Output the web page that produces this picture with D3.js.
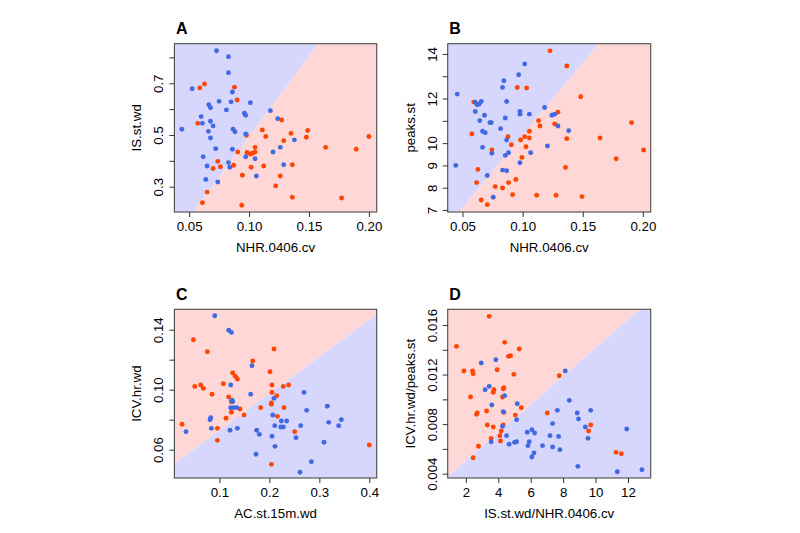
<!DOCTYPE html>
<html><head><meta charset="utf-8">
<script src="https://cdn.jsdelivr.net/npm/d3@7"></script>
<style>body{margin:0;background:#fff} text{font-family:"Liberation Sans",Arial,sans-serif;fill:#000}</style>
</head><body><svg id="c" width="800" height="533"></svg>
<script>
// ---- data ----
const aBlue=[[0.0728,0.826],[0.0828,0.803],[0.0828,0.741],[0.0525,0.679],[0.0861,0.666],[0.0664,0.617],[0.0678,0.605],[0.0750,0.630],[0.0850,0.628],[0.1011,0.625],[0.0811,0.597],[0.0600,0.571],[0.0961,0.584],[0.0972,0.576],[0.1178,0.594],[0.1239,0.563],[0.0611,0.545],[0.0678,0.553],[0.0700,0.535],[0.0439,0.522],[0.0661,0.514],[0.0867,0.522],[0.0883,0.512],[0.0972,0.504],[0.0678,0.488],[0.1378,0.481],[0.0722,0.447],[0.0861,0.445],[0.1261,0.452],[0.0617,0.416],[0.0972,0.416],[0.1050,0.408],[0.1200,0.434],[0.0828,0.393],[0.0650,0.380],[0.0839,0.375],[0.1289,0.385],[0.0639,0.328],[0.0739,0.318],[0.1061,0.341]];
const aRed=[[0.0628,0.697],[0.0589,0.682],[0.0878,0.685],[0.0900,0.635],[0.0572,0.545],[0.1272,0.558],[0.1111,0.519],[0.1489,0.517],[0.1350,0.506],[0.1139,0.494],[0.0978,0.499],[0.1478,0.491],[0.2000,0.494],[0.1289,0.478],[0.1050,0.452],[0.1639,0.452],[0.1894,0.445],[0.0906,0.434],[0.0983,0.432],[0.1011,0.426],[0.1028,0.429],[0.1050,0.434],[0.0739,0.398],[0.0761,0.377],[0.0700,0.370],[0.0872,0.383],[0.1017,0.375],[0.1122,0.380],[0.1361,0.385],[0.0944,0.344],[0.1261,0.341],[0.1222,0.303],[0.0650,0.279],[0.1361,0.259],[0.1772,0.256],[0.0611,0.238],[0.0939,0.228]];
const bBlue=[[0.1017,13.55],[0.0967,13.07],[0.0844,12.80],[0.0833,12.50],[0.0456,12.20],[0.0606,11.84],[0.0622,11.72],[0.0639,11.75],[0.0656,11.87],[0.0867,11.87],[0.0606,11.42],[0.0683,11.25],[0.0644,11.01],[0.0728,10.92],[0.0739,10.92],[0.0856,11.13],[0.0978,11.42],[0.0978,11.30],[0.1056,11.30],[0.1183,11.60],[0.1244,11.25],[0.1267,11.30],[0.1294,10.77],[0.1383,10.56],[0.0817,10.65],[0.0667,10.53],[0.0689,10.47],[0.0867,10.14],[0.0667,9.81],[0.0744,9.54],[0.0856,9.45],[0.0883,9.57],[0.1067,9.57],[0.1206,9.87],[0.0978,9.12],[0.0444,9.00],[0.0833,8.79],[0.0867,8.76],[0.0706,8.55],[0.0756,7.57]];
const bRed=[[0.1228,14.14],[0.1367,13.46],[0.0956,12.50],[0.1033,12.47],[0.1483,12.08],[0.0594,11.84],[0.1294,11.39],[0.1133,11.01],[0.1144,10.77],[0.1267,10.86],[0.1906,10.92],[0.0578,10.41],[0.1056,10.53],[0.0878,10.29],[0.1017,10.29],[0.1056,10.23],[0.0983,10.14],[0.1367,10.20],[0.1644,10.23],[0.0906,9.93],[0.1028,9.84],[0.0744,9.69],[0.2006,9.69],[0.0994,9.36],[0.1778,9.30],[0.1356,8.91],[0.0628,8.82],[0.0944,8.37],[0.0617,8.23],[0.0883,8.23],[0.0772,8.05],[0.0833,7.99],[0.0917,7.69],[0.1117,7.66],[0.1278,7.66],[0.1494,7.60],[0.0656,7.45],[0.0706,7.24]];
const cBlue=[[0.0907,0.1493],[0.1187,0.1396],[0.1240,0.1382],[0.1653,0.1160],[0.1227,0.1031],[0.1627,0.0969],[0.1253,0.0929],[0.1267,0.0920],[0.1227,0.0880],[0.1280,0.0880],[0.1347,0.0880],[0.2093,0.0942],[0.2693,0.0982],[0.2747,0.0862],[0.3160,0.0889],[0.2067,0.0831],[0.0813,0.0800],[0.0827,0.0813],[0.2240,0.0791],[0.2347,0.0791],[0.2227,0.0751],[0.2280,0.0751],[0.3187,0.0782],[0.3440,0.0800],[0.3387,0.0760],[0.2107,0.0760],[0.2627,0.0760],[0.0840,0.0742],[0.1213,0.0729],[0.1360,0.0742],[0.0333,0.0720],[0.1747,0.0729],[0.1800,0.0702],[0.2053,0.0689],[0.2533,0.0680],[0.3093,0.0649],[0.2113,0.0622],[0.1733,0.0569],[0.2840,0.0520],[0.2613,0.0449]];
const cRed=[[0.0480,0.1333],[0.0760,0.1253],[0.2093,0.1271],[0.1667,0.1191],[0.2013,0.1120],[0.1267,0.1111],[0.1320,0.1089],[0.1360,0.1071],[0.1080,0.1040],[0.0507,0.1022],[0.0627,0.1031],[0.0680,0.1009],[0.2053,0.1031],[0.2280,0.1022],[0.2387,0.1031],[0.2053,0.0982],[0.0853,0.0969],[0.2147,0.0960],[0.1187,0.0951],[0.1240,0.0920],[0.2040,0.0911],[0.2040,0.0902],[0.1827,0.0880],[0.2293,0.0880],[0.1413,0.0871],[0.1240,0.0849],[0.1493,0.0831],[0.2160,0.0822],[0.1133,0.0809],[0.0253,0.0769],[0.0960,0.0742],[0.2507,0.0720],[0.0960,0.0662],[0.4000,0.0631],[0.2040,0.0502]];
const dRed=[[3.44,0.01670],[1.42,0.01428],[4.39,0.01460],[4.63,0.01347],[4.76,0.01352],[5.29,0.01406],[1.88,0.01229],[2.41,0.01229],[2.45,0.01207],[3.93,0.01239],[4.96,0.01202],[7.76,0.01191],[3.73,0.01078],[3.69,0.01056],[4.35,0.01094],[4.30,0.01085],[2.29,0.01019],[4.26,0.01019],[5.42,0.00933],[3.28,0.00906],[2.70,0.00890],[2.66,0.00879],[4.35,0.00895],[5.05,0.00873],[7.02,0.00890],[3.32,0.00793],[3.69,0.00777],[4.30,0.00793],[4.18,0.00744],[9.70,0.00793],[9.57,0.00744],[4.10,0.00707],[3.56,0.00685],[4.14,0.00664],[2.78,0.00621],[2.45,0.00529],[11.26,0.00572],[11.59,0.00561]];
const dBlue=[[2.95,0.01293],[3.85,0.01320],[8.13,0.01229],[3.19,0.01078],[3.44,0.01105],[4.39,0.01030],[3.60,0.00954],[5.17,0.00965],[8.38,0.00992],[4.30,0.00900],[7.64,0.00911],[8.87,0.00890],[9.70,0.00911],[5.13,0.00836],[8.95,0.00841],[7.35,0.00804],[4.26,0.00782],[9.37,0.00777],[11.92,0.00760],[5.79,0.00734],[6.07,0.00755],[6.24,0.00728],[4.51,0.00707],[7.19,0.00707],[7.72,0.00701],[9.53,0.00685],[3.56,0.00658],[5.00,0.00653],[5.13,0.00658],[5.91,0.00658],[4.67,0.00637],[5.83,0.00626],[6.73,0.00626],[7.35,0.00615],[7.80,0.00594],[6.20,0.00567],[6.07,0.00535],[8.91,0.00459],[11.34,0.00416],[12.86,0.00432]];
// decision boundaries (two points each, data units)
const aBoundary=[[0.0533,0.202],[0.1578,0.853]];
const bBoundary=[[0.0472,6.91],[0.1633,14.46]];
const cBoundary=[[0.010,0.0506],[0.4148,0.1502]];
const dBoundary=[[0.87,0.00373],[12.74,0.01727]];
// ticks
const abXTicks=[0.05,0.10,0.15,0.20];
const aYTicks=[0.3,0.4,0.5,0.6,0.7,0.8], aYLabels=[0.3,0.5,0.7];
const bYTicks=[7,8,9,10,11,12,13,14], bYLabels=[7,8,9,10,12,14];
const cXTicks=[0.1,0.2,0.3,0.4];
const cYTicks=[0.06,0.08,0.10,0.12,0.14], cYLabels=[0.06,0.10,0.14];
const dXTicks=[2,4,6,8,10,12];
const dYTicks=[0.004,0.006,0.008,0.010,0.012,0.014,0.016], dYLabels=[0.004,0.008,0.012,0.016];

const COL={blue:"#4169e1",red:"#ff4500",bgBlue:"#d7d7fd",bgRed:"#ffd7d7"};

const panels=[
 {t:"A",blue:aBlue,red:aRed,bd:aBoundary,ul:"blue",xd:[0.0377,0.2065],yd:[0.202,0.853],xt:abXTicks,xl:abXTicks,xf:".2f",yt:aYTicks,yl:aYLabels,yf:".1f",xlab:"NHR.0406.cv",ylab:"IS.st.wd",box:[174.4,43.7,376.7,212]},
 {t:"B",blue:bBlue,red:bRed,bd:bBoundary,ul:"blue",xd:[0.0377,0.2065],yd:[6.91,14.46],xt:abXTicks,xl:abXTicks,xf:".2f",yt:bYTicks,yl:bYLabels,yf:"d",xlab:"NHR.0406.cv",ylab:"peaks.st",box:[447.7,43.7,650.7,212]},
 {t:"C",blue:cBlue,red:cRed,bd:cBoundary,ul:"red",xd:[0.010,0.4148],yd:[0.0411,0.1536],xt:cXTicks,xl:cXTicks,xf:".1f",yt:cYTicks,yl:cYLabels,yf:".2f",xlab:"AC.st.15m.wd",ylab:"ICV.hr.wd",box:[174.4,309.3,376.7,478]},
 {t:"D",blue:dBlue,red:dRed,bd:dBoundary,ul:"red",xd:[0.88,13.40],yd:[0.00365,0.01727],xt:dXTicks,xl:dXTicks,xf:"d",yt:dYTicks,yl:dYLabels,yf:".3f",xlab:"IS.st.wd/NHR.0406.cv",ylab:"ICV.hr.wd/peaks.st",box:[447.7,309.3,650.7,478]}
];

function clipHalf(poly,a,b,sign){
  const s=p=>sign*((b[0]-a[0])*(p[1]-a[1])-(b[1]-a[1])*(p[0]-a[0]));
  const out=[];
  for(let i=0;i<poly.length;i++){
    const P=poly[i],Q=poly[(i+1)%poly.length],sp=s(P),sq=s(Q);
    if(sp>=0) out.push(P);
    if((sp>=0)!==(sq>=0)){const t=sp/(sp-sq);out.push([P[0]+t*(Q[0]-P[0]),P[1]+t*(Q[1]-P[1])]);}
  }
  return out;
}

const svg=d3.select("#c");
const FS=13.3;
panels.forEach((p,i)=>{
  const [x0,y0,x1,y1]=p.box;
  const x=d3.scaleLinear().domain(p.xd).range([x0,x1]);
  const y=d3.scaleLinear().domain(p.yd).range([y1,y0]);
  const g=svg.append("g");
  const rect=[[x0,y0],[x1,y0],[x1,y1],[x0,y1]];
  const a=[x(p.bd[0][0]),y(p.bd[0][1])], b=[x(p.bd[1][0]),y(p.bd[1][1])];
  const sTL=(b[0]-a[0])*(y0-a[1])-(b[1]-a[1])*(x0-a[0]);
  const sg=sTL>=0?1:-1;
  const polyUL=clipHalf(rect,a,b,sg), polyLR=clipHalf(rect,a,b,-sg);
  const ulCol=p.ul==="blue"?COL.bgBlue:COL.bgRed, lrCol=p.ul==="blue"?COL.bgRed:COL.bgBlue;
  const line=d3.line();
  g.append("path").attr("d",line(polyUL)+"Z").attr("fill",ulCol);
  g.append("path").attr("d",line(polyLR)+"Z").attr("fill",lrCol);
  const pts=[...p.red.map(d=>({d,c:COL.red})),...p.blue.map(d=>({d,c:COL.blue}))];
  g.selectAll("circle").data(pts).join("circle")
    .attr("cx",o=>x(o.d[0])).attr("cy",o=>y(o.d[1])).attr("r",2.45).attr("fill",o=>o.c);
  g.append("rect").attr("x",x0).attr("y",y0).attr("width",x1-x0).attr("height",y1-y0)
    .attr("fill","none").attr("stroke","#4a4a4a").attr("stroke-width",1.1);
  const fx=d3.format(p.xf), fy=d3.format(p.yf);
  const ax=g.append("g").attr("transform",`translate(0,${y1})`)
    .call(d3.axisBottom(x).tickValues(p.xt).tickSize(5).tickFormat(v=>p.xl.includes(v)?fx(v):""));
  ax.select(".domain").remove();
  ax.selectAll("line").attr("stroke","#333");
  ax.selectAll("text").attr("y",19).attr("dy",0).style("font-size",FS+"px").attr("fill","#000");
  const ay=g.append("g").attr("transform",`translate(${x0},0)`)
    .call(d3.axisLeft(y).tickValues(p.yt).tickSize(5).tickFormat(v=>p.yl.some(l=>Math.abs(l-v)<1e-9)?fy(v):""));
  ay.select(".domain").remove();
  ay.selectAll("line").attr("stroke","#333");
  ay.selectAll("text").attr("transform","rotate(-90)").attr("x",0).attr("y",-11).attr("dy",0)
    .attr("text-anchor","middle").style("font-size",FS+"px").attr("fill","#000");
  g.append("text").attr("x",(x0+x1)/2).attr("y",y1+40).attr("text-anchor","middle")
    .style("font-size",FS+"px").text(p.xlab);
  g.append("text").attr("transform",`translate(${x0-33},${(y0+y1)/2}) rotate(-90)`).attr("text-anchor","middle")
    .style("font-size",FS+"px").text(p.ylab);
  g.append("text").attr("x",x0+1.5).attr("y",y0-9.5).style("font-size","16px").style("font-weight","bold").text(p.t);
});
</script></body></html>
